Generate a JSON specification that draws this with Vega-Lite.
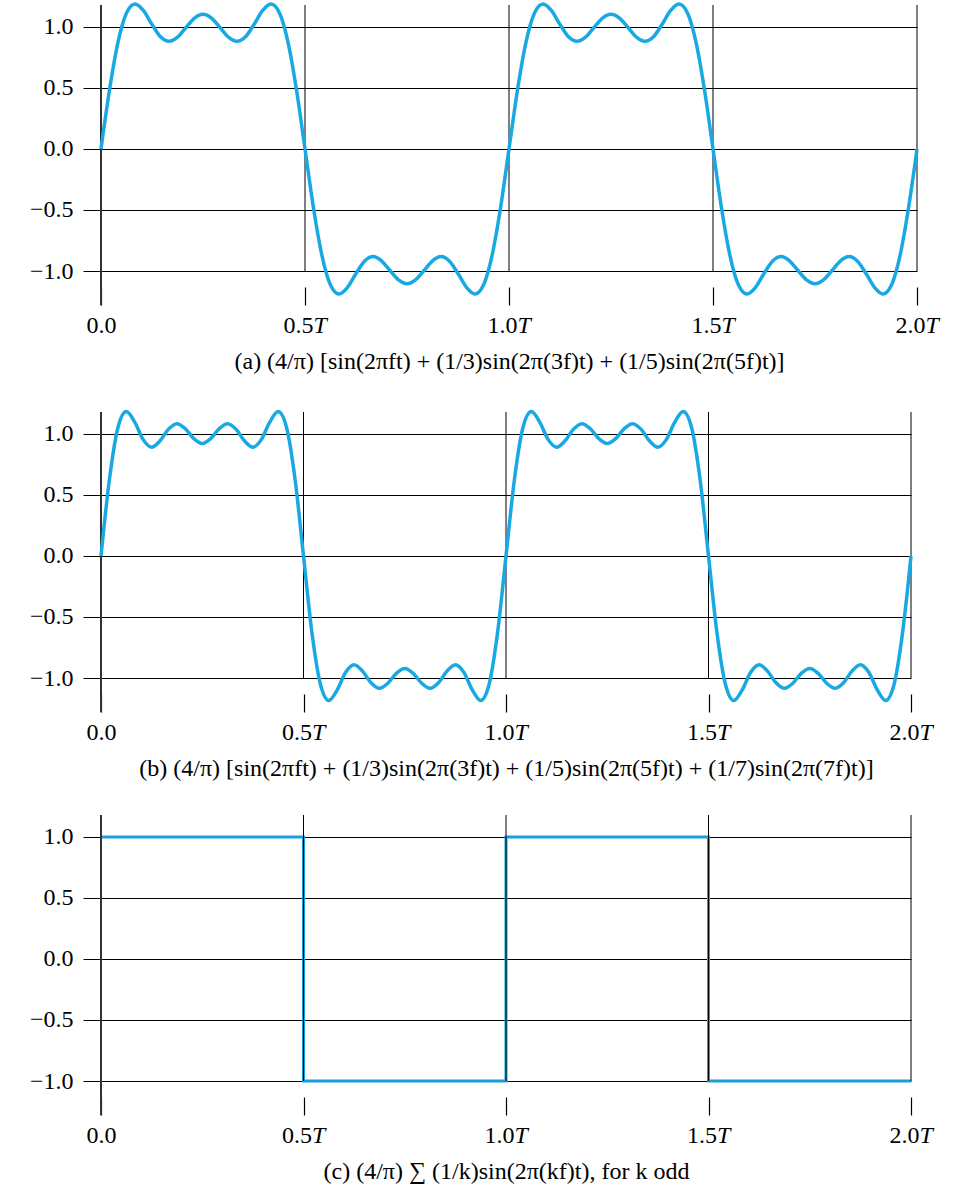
{
  "$schema": "https://vega.github.io/schema/vega-lite/v6.json",
  "background": "white",
  "padding": {"left": 29, "top": -4, "right": 10, "bottom": 5},
  "bounds": "flush",
  "spacing": 141,
  "config": {
    "view": {"stroke": null},
    "font": "Liberation Serif",
    "axis": {
      "labelFont": "Liberation Serif", "labelFontSize": 24, "labelColor": "black",
      "titleFont": "Liberation Serif", "titleFontSize": 24, "titleFontWeight": "normal", "titleColor": "black",
      "tickColor": "black", "tickSize": 18, "domain": false
    }
  },
  "datasets": {
    "wave": [
      {"t": 0, "a": 0, "b": 0},
      {"t": 0.0208, "a": 0.4836, "b": 0.6279},
      {"t": 0.0417, "a": 0.8756, "b": 1.0513},
      {"t": 0.0625, "a": 1.1146, "b": 1.1842},
      {"t": 0.0833, "a": 1.1884, "b": 1.0974},
      {"t": 0.1042, "a": 1.134, "b": 0.9536},
      {"t": 0.125, "a": 1.0204, "b": 0.8918},
      {"t": 0.1458, "a": 0.9201, "b": 0.9438},
      {"t": 0.1667, "a": 0.8821, "b": 1.0396},
      {"t": 0.1875, "a": 0.9165, "b": 1.0845},
      {"t": 0.2083, "a": 0.9957, "b": 1.0427},
      {"t": 0.2292, "a": 1.0723, "b": 0.9616},
      {"t": 0.25, "a": 1.1035, "b": 0.9216},
      {"t": 0.2708, "a": 1.0723, "b": 0.9616},
      {"t": 0.2917, "a": 0.9957, "b": 1.0427},
      {"t": 0.3125, "a": 0.9165, "b": 1.0845},
      {"t": 0.3333, "a": 0.8821, "b": 1.0396},
      {"t": 0.3542, "a": 0.9201, "b": 0.9438},
      {"t": 0.375, "a": 1.0204, "b": 0.8918},
      {"t": 0.3958, "a": 1.134, "b": 0.9536},
      {"t": 0.4167, "a": 1.1884, "b": 1.0974},
      {"t": 0.4375, "a": 1.1146, "b": 1.1842},
      {"t": 0.4583, "a": 0.8756, "b": 1.0513},
      {"t": 0.4792, "a": 0.4836, "b": 0.6279},
      {"t": 0.5, "a": 0, "b": 0},
      {"t": 0.5208, "a": -0.4836, "b": -0.6279},
      {"t": 0.5417, "a": -0.8756, "b": -1.0513},
      {"t": 0.5625, "a": -1.1146, "b": -1.1842},
      {"t": 0.5833, "a": -1.1884, "b": -1.0974},
      {"t": 0.6042, "a": -1.134, "b": -0.9536},
      {"t": 0.625, "a": -1.0204, "b": -0.8918},
      {"t": 0.6458, "a": -0.9201, "b": -0.9438},
      {"t": 0.6667, "a": -0.8821, "b": -1.0396},
      {"t": 0.6875, "a": -0.9165, "b": -1.0845},
      {"t": 0.7083, "a": -0.9957, "b": -1.0427},
      {"t": 0.7292, "a": -1.0723, "b": -0.9616},
      {"t": 0.75, "a": -1.1035, "b": -0.9216},
      {"t": 0.7708, "a": -1.0723, "b": -0.9616},
      {"t": 0.7917, "a": -0.9957, "b": -1.0427},
      {"t": 0.8125, "a": -0.9165, "b": -1.0845},
      {"t": 0.8333, "a": -0.8821, "b": -1.0396},
      {"t": 0.8542, "a": -0.9201, "b": -0.9438},
      {"t": 0.875, "a": -1.0204, "b": -0.8918},
      {"t": 0.8958, "a": -1.134, "b": -0.9536},
      {"t": 0.9167, "a": -1.1884, "b": -1.0974},
      {"t": 0.9375, "a": -1.1146, "b": -1.1842},
      {"t": 0.9583, "a": -0.8756, "b": -1.0513},
      {"t": 0.9792, "a": -0.4836, "b": -0.6279},
      {"t": 1, "a": 0, "b": 0},
      {"t": 1.0208, "a": 0.4836, "b": 0.6279},
      {"t": 1.0417, "a": 0.8756, "b": 1.0513},
      {"t": 1.0625, "a": 1.1146, "b": 1.1842},
      {"t": 1.0833, "a": 1.1884, "b": 1.0974},
      {"t": 1.1042, "a": 1.134, "b": 0.9536},
      {"t": 1.125, "a": 1.0204, "b": 0.8918},
      {"t": 1.1458, "a": 0.9201, "b": 0.9438},
      {"t": 1.1667, "a": 0.8821, "b": 1.0396},
      {"t": 1.1875, "a": 0.9165, "b": 1.0845},
      {"t": 1.2083, "a": 0.9957, "b": 1.0427},
      {"t": 1.2292, "a": 1.0723, "b": 0.9616},
      {"t": 1.25, "a": 1.1035, "b": 0.9216},
      {"t": 1.2708, "a": 1.0723, "b": 0.9616},
      {"t": 1.2917, "a": 0.9957, "b": 1.0427},
      {"t": 1.3125, "a": 0.9165, "b": 1.0845},
      {"t": 1.3333, "a": 0.8821, "b": 1.0396},
      {"t": 1.3542, "a": 0.9201, "b": 0.9438},
      {"t": 1.375, "a": 1.0204, "b": 0.8918},
      {"t": 1.3958, "a": 1.134, "b": 0.9536},
      {"t": 1.4167, "a": 1.1884, "b": 1.0974},
      {"t": 1.4375, "a": 1.1146, "b": 1.1842},
      {"t": 1.4583, "a": 0.8756, "b": 1.0513},
      {"t": 1.4792, "a": 0.4836, "b": 0.6279},
      {"t": 1.5, "a": 0, "b": 0},
      {"t": 1.5208, "a": -0.4836, "b": -0.6279},
      {"t": 1.5417, "a": -0.8756, "b": -1.0513},
      {"t": 1.5625, "a": -1.1146, "b": -1.1842},
      {"t": 1.5833, "a": -1.1884, "b": -1.0974},
      {"t": 1.6042, "a": -1.134, "b": -0.9536},
      {"t": 1.625, "a": -1.0204, "b": -0.8918},
      {"t": 1.6458, "a": -0.9201, "b": -0.9438},
      {"t": 1.6667, "a": -0.8821, "b": -1.0396},
      {"t": 1.6875, "a": -0.9165, "b": -1.0845},
      {"t": 1.7083, "a": -0.9957, "b": -1.0427},
      {"t": 1.7292, "a": -1.0723, "b": -0.9616},
      {"t": 1.75, "a": -1.1035, "b": -0.9216},
      {"t": 1.7708, "a": -1.0723, "b": -0.9616},
      {"t": 1.7917, "a": -0.9957, "b": -1.0427},
      {"t": 1.8125, "a": -0.9165, "b": -1.0845},
      {"t": 1.8333, "a": -0.8821, "b": -1.0396},
      {"t": 1.8542, "a": -0.9201, "b": -0.9438},
      {"t": 1.875, "a": -1.0204, "b": -0.8918},
      {"t": 1.8958, "a": -1.134, "b": -0.9536},
      {"t": 1.9167, "a": -1.1884, "b": -1.0974},
      {"t": 1.9375, "a": -1.1146, "b": -1.1842},
      {"t": 1.9583, "a": -0.8756, "b": -1.0513},
      {"t": 1.9792, "a": -0.4836, "b": -0.6279},
      {"t": 2, "a": 0, "b": 0}
    ],
    "square": [
      {"t": 0, "v": 1},
      {"t": 0.5, "v": -1},
      {"t": 1, "v": 1},
      {"t": 1.5, "v": -1},
      {"t": 2, "v": -1}
    ],
    "vgrid": [{"t": 0.5}, {"t": 1}, {"t": 1.5}, {"t": 2}],
    "yaxis": [{"t": 0, "lo": -1.28, "hi": 1.18}]
  },
  "vconcat": [
    {
      "width": 816, "height": 266,
      "resolve": {"axis": {"x": "independent"}},
      "layer": [
        {
          "data": {"name": "vgrid"},
          "mark": {"type": "rule", "color": "black", "strokeWidth": 1},
          "encoding": {
            "x": {"field": "t", "type": "quantitative", "scale": {"domain": [0, 2], "nice": false},
              "title": "(a) (4/π) [sin(2πft) + (1/3)sin(2π(3f)t) + (1/5)sin(2π(5f)t)]",
              "axis": {"orient": "bottom", "values": [0, 0.5, 1, 1.5, 2], "labelExpr": "format(datum.value, '.1f')", "labelAlign": {"condition": {"test": "datum.value == 0", "value": "center"}, "value": "right"}, "labelOffset": {"condition": {"test": "datum.value == 0", "value": 0}, "value": 8}, "offset": 16, "grid": false, "domain": false, "tickSize": 18, "tickWidth": 1.2, "tickColor": "black", "labelPadding": 8, "titlePadding": 12, "labelFlush": false, "labelOverlap": false}},
            "y": {"datum": -1, "type": "quantitative", "scale": {"domain": [-1, 1.18], "nice": false, "zero": false}, "title": null,
              "axis": {"values": [-1, -0.5, 0, 0.5, 1], "format": ".1f", "grid": true, "gridColor": "black", "gridWidth": 1, "gridOpacity": 1, "domain": false, "tickSize": 18, "tickWidth": 1, "tickColor": "black", "labelPadding": 10}},
            "y2": {"datum": 1.18}
          }
        },
        {
          "data": {"name": "yaxis"},
          "mark": {"type": "rule", "color": "#333333", "strokeWidth": 2},
          "encoding": {
            "x": {"field": "t", "type": "quantitative", "axis": null},
            "y": {"field": "lo", "type": "quantitative", "title": null},
            "y2": {"field": "hi"}
          }
        },
        {
          "data": {"name": "wave"},
          "mark": {"type": "line", "color": "#19a9e2", "strokeWidth": 3.5, "interpolate": "monotone"},
          "encoding": {
            "x": {"field": "t", "type": "quantitative", "title": null,
              "axis": {"orient": "bottom", "values": [0.5, 1, 1.5, 2], "labelExpr": "'T'", "labelAlign": "left", "labelOffset": 8, "labelFontStyle": "italic", "offset": 16, "grid": false, "domain": false, "tickSize": 18, "tickOpacity": 0, "labelPadding": 8, "labelFlush": false, "labelOverlap": false}},
            "y": {"field": "a", "type": "quantitative", "title": null}
          }
        }
      ]
    },
    {
      "vconcat": [
        {
          "width": 810, "height": 266,
          "resolve": {"axis": {"x": "independent"}},
          "layer": [
            {
              "data": {"name": "vgrid"},
              "mark": {"type": "rule", "color": "black", "strokeWidth": 1},
              "encoding": {
                "x": {"field": "t", "type": "quantitative", "scale": {"domain": [0, 2], "nice": false},
                  "title": "(b) (4/π) [sin(2πft) + (1/3)sin(2π(3f)t) + (1/5)sin(2π(5f)t) + (1/7)sin(2π(7f)t)]",
                  "axis": {"orient": "bottom", "values": [0, 0.5, 1, 1.5, 2], "labelExpr": "format(datum.value, '.1f')", "labelAlign": {"condition": {"test": "datum.value == 0", "value": "center"}, "value": "right"}, "labelOffset": {"condition": {"test": "datum.value == 0", "value": 0}, "value": 8}, "offset": 16, "grid": false, "domain": false, "tickSize": 18, "tickWidth": 1.2, "tickColor": "black", "labelPadding": 8, "titlePadding": 12, "labelFlush": false, "labelOverlap": false}},
                "y": {"datum": -1, "type": "quantitative", "scale": {"domain": [-1, 1.18], "nice": false, "zero": false}, "title": null,
                  "axis": {"values": [-1, -0.5, 0, 0.5, 1], "format": ".1f", "grid": true, "gridColor": "black", "gridWidth": 1, "gridOpacity": 1, "domain": false, "tickSize": 18, "tickWidth": 1, "tickColor": "black", "labelPadding": 10}},
                "y2": {"datum": 1.18}
              }
            },
            {
              "data": {"name": "yaxis"},
              "mark": {"type": "rule", "color": "#333333", "strokeWidth": 2},
              "encoding": {
                "x": {"field": "t", "type": "quantitative", "axis": null},
                "y": {"field": "lo", "type": "quantitative", "title": null},
                "y2": {"field": "hi"}
              }
            },
            {
              "data": {"name": "wave"},
              "mark": {"type": "line", "color": "#19a9e2", "strokeWidth": 3.5, "interpolate": "monotone"},
              "encoding": {
                "x": {"field": "t", "type": "quantitative", "title": null,
                  "axis": {"orient": "bottom", "values": [0.5, 1, 1.5, 2], "labelExpr": "'T'", "labelAlign": "left", "labelOffset": 8, "labelFontStyle": "italic", "offset": 16, "grid": false, "domain": false, "tickSize": 18, "tickOpacity": 0, "labelPadding": 8, "labelFlush": false, "labelOverlap": false}},
                "y": {"field": "b", "type": "quantitative", "title": null}
              }
            }
          ]
        },
        {
          "width": 810, "height": 266,
          "resolve": {"axis": {"x": "independent"}},
          "layer": [
            {
              "data": {"name": "square"},
              "mark": {"type": "line", "color": "#1a9fdc", "strokeWidth": 3, "interpolate": "step-after"},
              "encoding": {
                "x": {"field": "t", "type": "quantitative", "scale": {"domain": [0, 2], "nice": false},
                  "title": "(c) (4/π) ∑ (1/k)sin(2π(kf)t), for k odd",
                  "axis": {"orient": "bottom", "values": [0, 0.5, 1, 1.5, 2], "labelExpr": "format(datum.value, '.1f')", "labelAlign": {"condition": {"test": "datum.value == 0", "value": "center"}, "value": "right"}, "labelOffset": {"condition": {"test": "datum.value == 0", "value": 0}, "value": 8}, "offset": 16, "grid": false, "domain": false, "tickSize": 18, "tickWidth": 1.2, "tickColor": "black", "labelPadding": 8, "titlePadding": 12, "labelFlush": false, "labelOverlap": false}},
                "y": {"field": "v", "type": "quantitative", "scale": {"domain": [-1, 1.18], "nice": false, "zero": false}, "title": null,
                  "axis": {"values": [-1, -0.5, 0, 0.5, 1], "format": ".1f", "grid": true, "gridColor": "black", "gridWidth": 1, "gridOpacity": 1, "domain": false, "tickSize": 18, "tickWidth": 1, "tickColor": "black", "labelPadding": 10}}
              }
            },
            {
              "data": {"name": "vgrid"},
              "mark": {"type": "rule", "color": "black", "strokeWidth": 1},
              "encoding": {
                "x": {"field": "t", "type": "quantitative", "title": null,
                  "axis": {"orient": "bottom", "values": [0.5, 1, 1.5, 2], "labelExpr": "'T'", "labelAlign": "left", "labelOffset": 8, "labelFontStyle": "italic", "offset": 16, "grid": false, "domain": false, "tickSize": 18, "tickOpacity": 0, "labelPadding": 8, "labelFlush": false, "labelOverlap": false}},
                "y": {"datum": -1, "type": "quantitative", "title": null},
                "y2": {"datum": 1.18}
              }
            },
            {
              "data": {"name": "yaxis"},
              "mark": {"type": "rule", "color": "#333333", "strokeWidth": 2},
              "encoding": {
                "x": {"field": "t", "type": "quantitative", "axis": null},
                "y": {"field": "lo", "type": "quantitative", "title": null},
                "y2": {"field": "hi"}
              }
            }
          ]
        }
      ],
      "spacing": 137,
      "bounds": "flush"
    }
  ]
}
